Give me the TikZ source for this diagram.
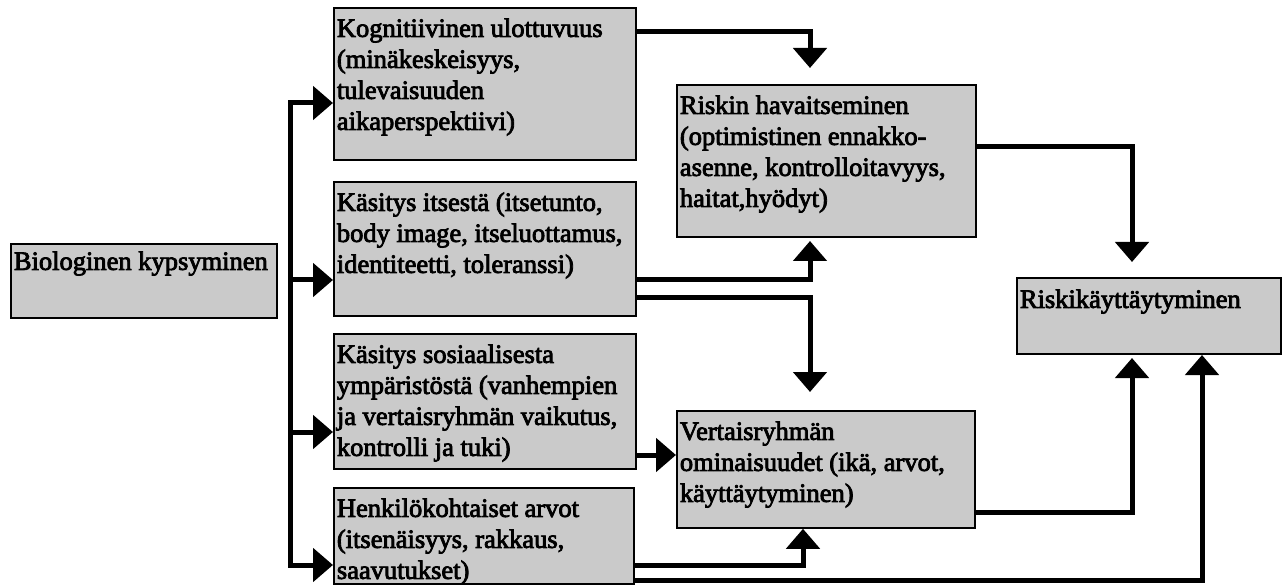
\documentclass[tikz,border=0pt]{standalone}
\usepackage{fontspec}
\setmainfont{Liberation Serif}[FakeBold=3]
\usetikzlibrary{arrows.meta}
\definecolor{boxgray}{RGB}{202,202,202}
\newcommand\boxtext[4][29pt]{\parbox[t][#3][t]{#2}{\begin{tabular}[t]{@{\hspace{3pt}}l@{}}\rule{0pt}{#1}#4\end{tabular}}}
\tikzset{
  box/.style={draw=black, line width=1.8pt, fill=boxgray, inner sep=0pt, anchor=north west,
              font=\fontsize{26.5}{31}\selectfont},
  tipA/.tip={Triangle[length=20pt,width=33pt]},
  conn/.style={line width=5pt, -tipA},
  trunk/.style={line width=5pt, tipA-tipA},
}
\begin{document}
\begin{tikzpicture}[x=1pt,y=-1pt]
\useasboundingbox (0,0) rectangle (1288,585);
% boxes
\node[box] (bio) at (10,243) {\boxtext[26pt]{266pt}{74pt}{Biologinen kypsyminen}};
\node[box] (kog) at (333,7) {\boxtext{302pt}{152pt}{Kognitiivinen ulottuvuus\\(minäkeskeisyys,\\tulevaisuuden\\aikaperspektiivi)}};
\node[box] (its) at (333,181) {\boxtext{302pt}{134pt}{Käsitys itsestä (itsetunto,\\body image, itseluottamus,\\identiteetti, toleranssi)}};
\node[box] (sos) at (333,333) {\boxtext{302pt}{135pt}{Käsitys sosiaalisesta\\ympäristöstä (vanhempien\\ja vertaisryhmän vaikutus,\\kontrolli ja tuki)}};
\node[box] (hen) at (333,487) {\boxtext{300pt}{96pt}{Henkilökohtaiset arvot\\(itsenäisyys, rakkaus,\\saavutukset)}};
\node[box] (ris) at (676,84) {\boxtext{299pt}{152pt}{Riskin havaitseminen\\(optimistinen ennakko-\\asenne, kontrolloitavyys,\\haitat,hyödyt)}};
\node[box] (ver) at (676,410) {\boxtext{298pt}{117pt}{Vertaisryhmän\\ominaisuudet (ikä, arvot,\\käyttäytyminen)}};
\node[box] (rk) at (1016,277) {\boxtext[30pt]{264pt}{76pt}{Riskikäyttäytyminen}};
% helper coordinates
\coordinate (tTop) at (290,103);
\coordinate (tBot) at (290,565);
\coordinate (tI) at (290,280);
\coordinate (tS) at (290,432);
\coordinate (yKR) at (0,32);
\coordinate (tipKR) at (810,68);
\coordinate (yIR) at (0,280);
\coordinate (tipIR) at (810,241);
\coordinate (yIV) at (0,298);
\coordinate (tipIV) at (810,392);
\coordinate (ySV) at (0,455);
\coordinate (yHV) at (0,565);
\coordinate (xHV) at (803,0);
\coordinate (yHR) at (0,580);
\coordinate (tipHR) at (1202,355);
\coordinate (yVR) at (0,512);
\coordinate (tipVR) at (1132,358);
\coordinate (yRR) at (0,147);
\coordinate (tipRR) at (1132,262);
% connectors
\draw[trunk] (kog.west |- tTop) -- (tTop) -- (tBot) -- (hen.west |- tBot);
\draw[conn] (tI) -- (its.west |- tI);
\draw[conn] (tS) -- (sos.west |- tS);
\draw[conn] (kog.east |- yKR) -| (tipKR);
\draw[conn] (its.east |- yIR) -| (tipIR);
\draw[conn] (its.east |- yIV) -| (tipIV);
\draw[conn] (sos.east |- ySV) -- (ver.west |- ySV);
\draw[conn] (hen.east |- yHV) -| (ver.south -| xHV);
\draw[conn] (hen.east |- yHR) -| (tipHR);
\draw[conn] (ver.east |- yVR) -| (tipVR);
\draw[conn] (ris.east |- yRR) -| (tipRR);
\end{tikzpicture}
\end{document}
